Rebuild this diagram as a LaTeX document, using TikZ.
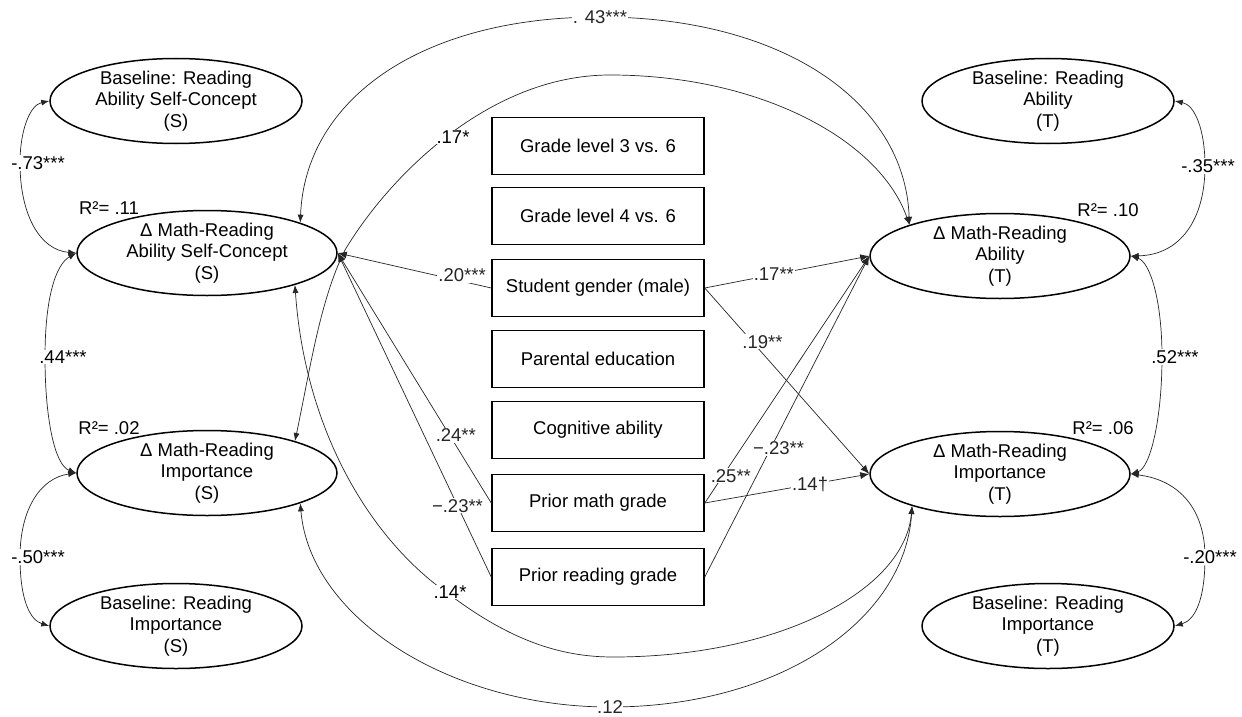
\documentclass[tikz,border=0pt]{standalone}
\usepackage{fontspec}
\setmainfont{Liberation Sans}
\usetikzlibrary{shapes.geometric,arrows.meta}
\begin{document}
\begin{tikzpicture}[x=1pt,y=-1pt,
  font=\fontsize{18.5}{21.7}\selectfont,
  lat/.style={ellipse,draw,line width=1.5pt,minimum width=260pt,minimum height=85pt,inner sep=-12pt,align=center},
  base/.style={ellipse,draw,line width=1.5pt,minimum width=252pt,minimum height=85pt,inner sep=-12pt,align=center},
  obs/.style={rectangle,draw,line width=1.5pt,minimum width=212pt,minimum height=57pt,inner sep=0pt},
  conn/.style={line width=0.7pt,black!85},
  path1/.style={conn,-{Latex[length=9pt,width=7pt]}},
  cov/.style={conn,{Latex[length=8pt,width=6pt]}-{Latex[length=8pt,width=6pt]}},
  lbl/.style={fill=white,inner sep=1pt},
]
\fill[white] (0,0) rectangle (1242,717);
\useasboundingbox (0,0) rectangle (1242,717);

% latent and baseline variables
\node[base] (BL1) at (176,101) {Baseline: Reading\\Ability Self-Concept\\(S)};
\node[lat]  (DL1) at (207,253) {Δ Math-Reading\\Ability Self-Concept\\(S)};
\node[lat]  (DL2) at (207,473) {Δ Math-Reading\\Importance\\(S)};
\node[base] (BL2) at (176,626) {Baseline: Reading\\Importance\\(S)};
\node[base] (BR1) at (1048,101) {Baseline: Reading\\Ability\\(T)};
\node[lat]  (DR1) at (1000,256) {Δ Math-Reading\\Ability\\(T)};
\node[lat]  (DR2) at (1000,474) {Δ Math-Reading\\Importance\\(T)};
\node[base] (BR2) at (1048,626) {Baseline: Reading\\Importance\\(T)};

% R squared
\node (r1) at (109,208) {R²= .11};
\node (r2) at (109,428) {R²= .02};
\node (r3) at (1108,210) {R²= .10};
\node (r4) at (1103,428) {R²= .06};

% observed predictors
\node[obs] (g3) at (598,146) {Grade level 3 vs. 6};
\node[obs] (g4) at (598,216) {Grade level 4 vs. 6};
\node[obs] (sg) at (598,288) {Student gender (male)};
\node[obs] (pe) at (598,359) {Parental education};
\node[obs] (ca) at (598,430) {Cognitive ability};
\node[obs] (pm) at (598,503) {Prior math grade};
\node[obs] (pr) at (598,577) {Prior reading grade};

% big covariance curves
\draw[cov] (DL1.18) .. controls (305,100) and (420,17) .. (600,17) node[lbl] {. 43***}
  .. controls (780,17) and (905,100) .. (DR1.161);
\draw[cov] (DL2.20) .. controls (310,370) and (320,300) .. (345,250)
  .. controls (390,175) and (490,75) .. (610,75)
  .. controls (760,75) and (880,140) .. (DR1.161);
\node[lbl] (l17) at (453,137) {.17*};
\draw[cov] (DL1.-20) .. controls (305,430) and (370,540) .. (450,595)
  .. controls (510,640) and (560,657) .. (613,657)
  .. controls (780,657) and (905,590) .. (DR2.-160);
\node[lbl] (l14) at (450,592) {.14*};
\draw[cov] (DL2.-18) .. controls (310,618) and (450,707) .. (610,707) node[lbl,inner sep=0.5pt] {.12}
  .. controls (780,707) and (905,620) .. (DR2.-160);

% side covariances
\draw[cov] (BL1.west) .. controls (30,105) and (20,130) .. (20,163)
  .. controls (20,215) and (40,250) .. (DL1.west);
\node[lbl] at (38,163) {-.73***};
\draw[cov] (DL1.west) .. controls (55,265) and (45,300) .. (45,357)
  .. controls (45,420) and (55,465) .. (DL2.west);
\node[lbl] at (63,357) {.44***};
\draw[cov] (DL2.west) .. controls (40,478) and (20,510) .. (20,557)
  .. controls (20,600) and (30,620) .. (BL2.west);
\node[lbl] at (38,557) {-.50***};
\draw[cov] (BR1.east) .. controls (1195,105) and (1205,130) .. (1205,166)
  .. controls (1205,220) and (1180,255) .. (DR1.east);
\node[lbl] at (1208,166) {-.35***};
\draw[cov] (DR1.east) .. controls (1150,262) and (1162,300) .. (1162,357)
  .. controls (1162,420) and (1150,468) .. (DR2.east);
\node[lbl] at (1175,357) {.52***};
\draw[cov] (DR2.east) .. controls (1180,480) and (1205,510) .. (1205,557)
  .. controls (1205,600) and (1195,620) .. (BR2.east);
\node[lbl] at (1210,557) {-.20***};

% regression paths
\draw[path1] (sg.west) -- node[lbl,pos=0.19,yshift=6pt] {.20***} (DL1.east);
\draw[path1] (pm.west) -- node[lbl,pos=0.27,xshift=6pt] {.24**} (DL1.east);
\draw[path1] (pr.west) -- node[lbl,pos=0.22] {−.23**} (DL1.east);
\draw[path1] (sg.east) -- node[lbl,pos=0.42] {.17**} (DR1.west);
\draw[path1] (sg.east) -- node[lbl,pos=0.29,xshift=10pt] {.19**} (DR2.west);
\draw[path1] (pm.east) -- node[lbl,pos=0.64] {.14†} (DR2.west);
\draw[path1] (pr.east) -- node[lbl,pos=0.4,xshift=8pt] {−.23**} (DR1.west);
\draw[path1] (pm.east) -- node[lbl,pos=0.11,xshift=8pt] {.25**} (DR1.west);
\end{tikzpicture}
\end{document}
